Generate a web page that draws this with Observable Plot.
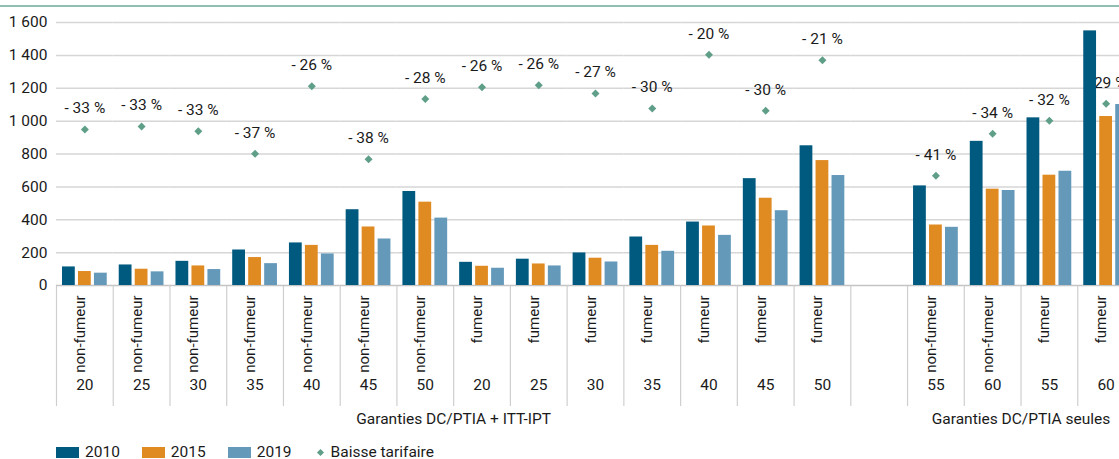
<!DOCTYPE html>
<html><head><meta charset="utf-8">
<script src="https://cdn.jsdelivr.net/npm/d3@7"></script>
<script src="https://cdn.jsdelivr.net/npm/@observablehq/plot@0.6"></script>
<style>
html,body{margin:0;padding:0;background:#fff;}
body{position:relative;width:1119px;height:459px;overflow:hidden;font-family:Roboto,"Liberation Sans",sans-serif;color:#1a1a1a;}
#topline{position:absolute;left:0;top:5px;width:1119px;height:2px;background:#8fbfb0;}
#legend{display:flex;align-items:center;margin-left:56px;margin-top:6px;height:13px;font-size:15.5px;line-height:13px;}
.item{display:flex;align-items:center;margin-right:22px;}
.sw{width:23px;height:11px;margin-right:6px;}
.dia{width:5px;height:5px;transform:rotate(45deg);margin:0 8px 0 4px;}
</style></head>
<body>
<div id="topline"></div>
<div id="chart"></div>
<div id="legend"></div>
<script>
// ---- data ----
const years = ["2010", "2015", "2019"];
const statut = ["non-fumeur","non-fumeur","non-fumeur","non-fumeur","non-fumeur","non-fumeur","non-fumeur",
  "fumeur","fumeur","fumeur","fumeur","fumeur","fumeur","fumeur","",
  "non-fumeur","non-fumeur","fumeur","fumeur"];
const ages = ["20","25","30","35","40","45","50","20","25","30","35","40","45","50","","55","60","55","60"];
const v2010 = [113,125,147,216,259,461,572,141,160,198,295,386,650,850,null,606,877,1020,1549];
const v2015 = [85,99,119,170,244,356,507,117,131,166,244,362,531,760,null,368,586,671,1028];
const v2019 = [75,83,97,133,192,283,410,105,119,143,208,305,455,669,null,354,578,695,1101];
const baisse = [949,968,939,802,1212,768,1135,1206,1218,1168,1077,1404,1063,1370,null,667,923,1002,1105];
const baisseLabels = ["- 33 %","- 33 %","- 33 %","- 37 %","- 26 %","- 38 %","- 28 %","- 26 %","- 26 %","- 27 %","- 30 %","- 20 %","- 30 %","- 21 %","","- 41 %","- 34 %","- 32 %","- 29 %"];
const groupLabels = ["Garanties DC/PTIA + ITT-IPT", "Garanties DC/PTIA seules"];
const groupStart = [0, 15];
const groupEnd = [13, 18];
const yTicks = [0,200,400,600,800,1000,1200,1400,1600];
const colors = ["#005a80", "#e08a22", "#6499ba"];
const pointColor = "#5f9e87";
const legendLabel = "Baisse tarifaire";

// ---- build tables ----
const keys = statut.map((_, i) => "c" + i);
const series = [v2010, v2015, v2019];
const rows = [];
keys.forEach((k, i) => years.forEach((yr, j) => rows.push({key: k, year: yr, value: series[j][i]})));
const points = keys.map((k, i) => ({key: k, value: baisse[i], label: baisseLabels[i]})).filter(d => d.value != null);
const cats = keys.map((k, i) => ({key: k, statut: statut[i], age: ages[i]}));
const groups = groupLabels.map((g, i) => ({label: g, key: keys[Math.floor((groupStart[i] + groupEnd[i] + 1) / 2)]}));

const fr = d3.formatLocale({decimal: ",", thousands: " ", grouping: [3], currency: ["", " €"]});
const fmt = fr.format(",d");
const font = "Roboto,'Liberation Sans',sans-serif";
const fs = 15.5;

const chart = Plot.plot({
  width: 1119, height: 440,
  marginLeft: 56, marginRight: 0, marginTop: 22, marginBottom: 155,
  style: {fontFamily: font, fontSize: fs + "px", color: "#1a1a1a", background: "transparent"},
  fx: {domain: keys, range: [56, 1134], padding: 0, round: false, axis: null},
  x: {domain: years, paddingInner: 0.2, paddingOuter: 0.375, round: false, axis: null},
  y: {domain: [0, 1600], ticks: yTicks.length - 1, tickFormat: fmt, tickSize: 0, tickPadding: 9, label: null},
  color: {domain: years, range: colors},
  marks: [
    Plot.ruleY(yTicks.slice(1), {stroke: "#d6d6d6", strokeWidth: 1.5}),
    Plot.frame({anchor: "left", stroke: "#cfcfcf", strokeWidth: 1.2, insetTop: 263, insetBottom: -120}),
    Plot.ruleY([0], {stroke: "#c4c4c4", strokeWidth: 1.5}),
    Plot.text(points, {fx: "key", y: "value", text: "label", dy: -21, fontSize: fs, fill: "#1a1a1a"}),
    Plot.dot(points, {fx: "key", y: "value", symbol: "diamond2", r: 3.6, fill: pointColor, stroke: "none"}),
    Plot.barY(rows, {fx: "key", x: "year", y: "value", fill: "year"}),
    Plot.text(cats, {fx: "key", text: "statut", frameAnchor: "bottom", rotate: -90, textAnchor: "end", dy: 10, fontSize: 15, fill: "#1a1a1a"}),
    Plot.text(cats, {fx: "key", text: "age", frameAnchor: "bottom", dy: 104, fontSize: fs, fill: "#1a1a1a"}),
    Plot.text(groups, {fx: "key", text: "label", frameAnchor: "bottom-left", textAnchor: "middle", dy: 138, fontSize: fs, fill: "#1a1a1a"})
  ]
});
document.getElementById("chart").appendChild(chart);

// ---- legend ----
const lg = document.getElementById("legend");
years.forEach((yr, j) => {
  const it = document.createElement("div"); it.className = "item";
  const sw = document.createElement("div"); sw.className = "sw"; sw.style.background = colors[j];
  it.appendChild(sw); it.appendChild(document.createTextNode(yr)); lg.appendChild(it);
});
const it = document.createElement("div"); it.className = "item";
const dm = document.createElement("div"); dm.className = "dia"; dm.style.background = pointColor;
it.appendChild(dm); it.appendChild(document.createTextNode(legendLabel)); lg.appendChild(it);
</script>
</body></html>
